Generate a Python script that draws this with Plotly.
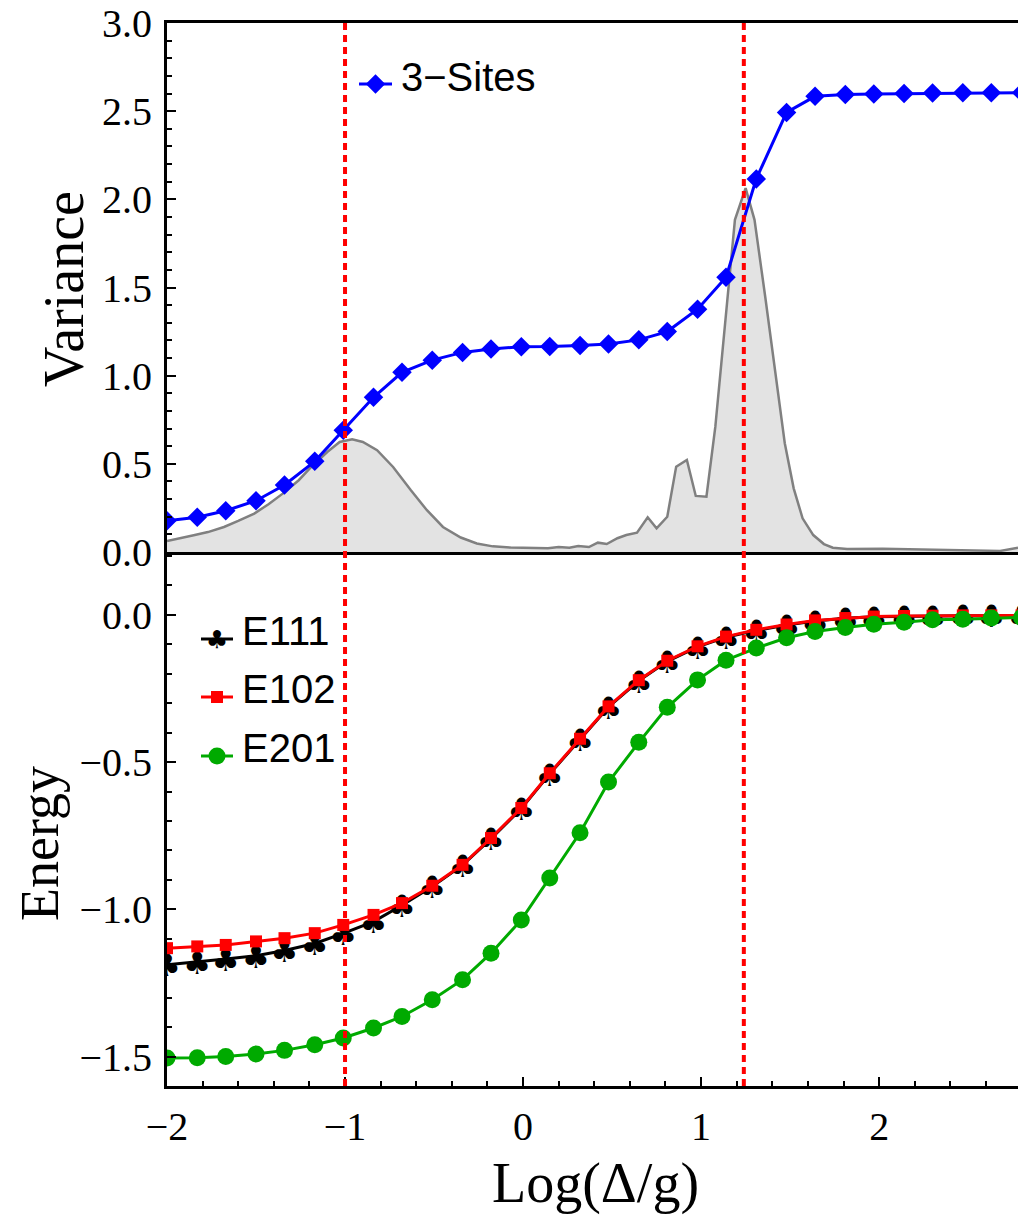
import plotly.graph_objects as go

# ---------------- data ----------------
log_ratio = [-2.00, -1.83, -1.67, -1.50, -1.34, -1.17, -1.01, -0.84, -0.68, -0.51,
             -0.34, -0.18, -0.01, 0.15, 0.32, 0.48, 0.65, 0.81, 0.98, 1.14,
             1.31, 1.48, 1.64, 1.81, 1.97, 2.14, 2.30, 2.47, 2.63, 2.80]

variance_3sites = [0.177, 0.197, 0.234, 0.291, 0.380, 0.514, 0.690, 0.877, 1.019, 1.088,
                   1.132, 1.151, 1.164, 1.165, 1.171, 1.180, 1.203, 1.250, 1.377, 1.558,
                   2.116, 2.493, 2.584, 2.594, 2.598, 2.600, 2.603, 2.605, 2.605, 2.605]

# derivative-like profile shown as the grey filled curve
profile_x = [-2.00, -1.93, -1.85, -1.77, -1.68, -1.60, -1.51, -1.43, -1.35, -1.26,
             -1.19, -1.10, -1.03, -0.96, -0.90, -0.82, -0.73, -0.63, -0.54, -0.45,
             -0.35, -0.26, -0.17, -0.07, 0.10, 0.14, 0.20, 0.26, 0.31, 0.37,
             0.42, 0.47, 0.53, 0.58, 0.64, 0.70, 0.75, 0.81, 0.86, 0.92,
             0.97, 1.03, 1.08, 1.14, 1.19, 1.25, 1.30, 1.36, 1.42, 1.47,
             1.52, 1.57, 1.63, 1.69, 1.74, 1.82, 2.02, 2.30, 2.62, 2.68, 2.78]
profile_y = [0.062, 0.076, 0.095, 0.113, 0.142, 0.176, 0.218, 0.271, 0.331, 0.407,
             0.482, 0.567, 0.624, 0.639, 0.624, 0.577, 0.482, 0.350, 0.237, 0.142,
             0.082, 0.048, 0.032, 0.025, 0.021, 0.021, 0.028, 0.024, 0.034, 0.028,
             0.053, 0.045, 0.078, 0.096, 0.110, 0.197, 0.134, 0.200, 0.484, 0.522,
             0.318, 0.314, 0.711, 1.355, 1.884, 2.064, 1.884, 1.449, 0.995, 0.617,
             0.361, 0.191, 0.096, 0.045, 0.024, 0.017, 0.019, 0.013, 0.010, 0.006, 0.024]

e111 = [-1.188, -1.179, -1.169, -1.158, -1.140, -1.116, -1.082, -1.042, -0.986, -0.923,
        -0.850, -0.760, -0.658, -0.540, -0.423, -0.313, -0.224, -0.158, -0.109, -0.076,
        -0.053, -0.035, -0.021, -0.012, -0.007, -0.005, -0.004, -0.003, -0.003, -0.003]
e102 = [-1.132, -1.126, -1.121, -1.109, -1.098, -1.081, -1.053, -1.019, -0.979, -0.920,
        -0.849, -0.758, -0.656, -0.538, -0.421, -0.311, -0.222, -0.156, -0.107, -0.074,
        -0.051, -0.033, -0.019, -0.011, -0.006, -0.004, -0.003, -0.002, -0.002, -0.002]
e201 = [-1.505, -1.504, -1.500, -1.491, -1.479, -1.460, -1.437, -1.403, -1.364, -1.307,
        -1.239, -1.149, -1.036, -0.894, -0.740, -0.568, -0.433, -0.314, -0.221, -0.154,
        -0.113, -0.078, -0.057, -0.043, -0.032, -0.025, -0.017, -0.015, -0.011, -0.009]

transitions = [-1.0, 1.24]

x_tickvals = [-2, -1, 0, 1, 2]
x_ticktext = ["\u22122", "\u22121", "0", "1", "2"]
var_tickvals = [0.0, 0.5, 1.0, 1.5, 2.0, 2.5, 3.0]
var_ticktext = ["0.0", "0.5", "1.0", "1.5", "2.0", "2.5", "3.0"]
en_tickvals = [-1.5, -1.0, -0.5, 0.0]
en_ticktext = ["\u22121.5", "\u22121.0", "\u22120.5", "0.0"]

# ---------------- geometry ----------------
W, H = 1018, 1217
ML, MR, MT, MB = 167, 0, 23, 131
PW = W - ML - MR
PH = H - MT - MB
BOTTOM_PX = 534                      # height of the energy panel
ENERGY_PX_PER_UNIT = 294.5
split = BOTTOM_PX / PH
ENERGY_RANGE = [-1.6, -1.6 + BOTTOM_PX / ENERGY_PX_PER_UNIT]

# the club glyph sits a little above its text anchor; a twin axis shifted by a
# few pixels puts the glyph's visual centre on the data point
CLUB = "\u2663"
CLUB_SIZE = 31
CLUB_DROP_PX = 4
club_shift = CLUB_DROP_PX / ENERGY_PX_PER_UNIT
CLUB_RANGE = [ENERGY_RANGE[0] + club_shift, ENERGY_RANGE[1] + club_shift]


def px(xp):
    return (xp - ML) / PW


def py(yp):
    return (H - MB - yp) / PH


SERIF = "Liberation Serif"
SANS = "Liberation Sans"
GREEN = "#00aa00"

fig = go.Figure()

# top panel
fig.add_trace(go.Scatter(
    x=profile_x, y=profile_y, xaxis="x2", yaxis="y2", mode="lines",
    fill="tozeroy", fillcolor="#e3e3e3",
    line=dict(color="#808080", width=2.5), hoverinfo="skip"))
fig.add_trace(go.Scatter(
    x=log_ratio, y=variance_3sites, xaxis="x2", yaxis="y2", mode="lines+markers",
    line=dict(color="#0000ff", width=3),
    marker=dict(symbol="diamond", size=15, color="#0000ff")))

# bottom panel: E111 line (y), club glyphs (y4), then E102/E201 on y5 so
# they stack above the clubs
fig.add_trace(go.Scatter(
    x=log_ratio, y=e111, mode="lines",
    line=dict(color="black", width=3)))
fig.add_trace(go.Scatter(
    x=log_ratio, y=e111, xaxis="x", yaxis="y4", mode="text",
    text=[CLUB] * len(e111), textposition="middle center",
    textfont=dict(family="DejaVu Sans", size=CLUB_SIZE, color="black")))
fig.add_trace(go.Scatter(
    x=log_ratio, y=e102, xaxis="x", yaxis="y5", mode="lines+markers",
    line=dict(color="#ff0000", width=3),
    marker=dict(symbol="square", size=12, color="#ff0000")))
fig.add_trace(go.Scatter(
    x=log_ratio, y=e201, xaxis="x", yaxis="y5", mode="lines+markers",
    line=dict(color=GREEN, width=3),
    marker=dict(symbol="circle", size=17, color=GREEN)))

# legend keys (drawn on a hidden full-frame subplot in paper-like units)
key_specs = [
    (px(375.5), py(84), "diamond", 15, "#0000ff", None),
    (px(217), py(642), None, 0, "black", CLUB),
    (px(217), py(697), "square", 12, "#ff0000", None),
    (px(217), py(756), "circle", 17, GREEN, None),
]
for kx, ky, sym, size, col, txt in key_specs:
    if txt:
        fig.add_trace(go.Scatter(
            x=[kx], y=[ky], xaxis="x3", yaxis="y3", mode="text", text=[txt],
            textposition="middle center",
            textfont=dict(family="DejaVu Sans", size=CLUB_SIZE - 6, color=col)))
    else:
        fig.add_trace(go.Scatter(
            x=[kx], y=[ky], xaxis="x3", yaxis="y3", mode="markers",
            marker=dict(symbol=sym, size=size, color=col)))

key_lines = [(359, 392, 84, "#0000ff"), (201, 233, 639, "black"),
             (201, 233, 697, "#ff0000"), (201, 233, 756, GREEN)]
shapes = []
for x0, x1, yk, col in key_lines:
    shapes.append(dict(type="line", xref="paper", yref="paper",
                       x0=px(x0), x1=px(x1), y0=py(yk), y1=py(yk),
                       line=dict(color=col, width=3), layer="below"))
for xv in transitions:
    shapes.append(dict(type="line", xref="x", yref="paper", x0=xv, x1=xv, y0=0, y1=1,
                       line=dict(color="#ff0000", width=4, dash="7px,5px"),
                       layer="above"))

tickfont = dict(family=SERIF, size=40, color="black")
minor_y = dict(dtick=0.1, tick0=0, ticks="inside", ticklen=5, tickwidth=2, tickcolor="black")

annotations = [
    dict(text="Variance", x=px(64), y=py(289), textangle=-90,
         font=dict(family=SERIF, size=56, color="black")),
    dict(text="Energy", x=px(40), y=py(843), textangle=-90,
         font=dict(family=SERIF, size=54, color="black")),
    dict(text="Log(\u0394/g)", x=px(595), y=py(1183),
         font=dict(family=SERIF, size=56, color="black")),
    dict(text="3\u2212Sites", x=px(399), y=py(77), xanchor="left",
         font=dict(family=SANS, size=40, color="black")),
    dict(text="E111", x=px(240), y=py(631), xanchor="left",
         font=dict(family=SANS, size=40, color="black")),
    dict(text="E102", x=px(240), y=py(689), xanchor="left",
         font=dict(family=SANS, size=40, color="black")),
    dict(text="E201", x=px(240), y=py(747.5), xanchor="left",
         font=dict(family=SANS, size=40, color="black")),
]
for a in annotations:
    a.update(xref="paper", yref="paper", showarrow=False)
    a.setdefault("xanchor", "center")
    a.setdefault("yanchor", "middle")

fig.update_layout(
    width=W, height=H,
    margin=dict(l=ML, r=MR, t=MT, b=MB, pad=0),
    paper_bgcolor="white", plot_bgcolor="rgba(0,0,0,0)",
    showlegend=False,
    xaxis=dict(domain=[0, 1], anchor="y", range=[-2, 2.78],
               tickvals=x_tickvals, ticktext=x_ticktext, tickfont=tickfont,
               ticks="inside", ticklen=9, tickwidth=2, tickcolor="black",
               minor=dict(dtick=0.2, tick0=0, ticks="inside", ticklen=5,
                          tickwidth=2, tickcolor="black"),
               showline=True, linewidth=3, linecolor="black",
               showgrid=False, zeroline=False, ticklabelstandoff=3),
    yaxis=dict(domain=[0, split], anchor="x", range=ENERGY_RANGE,
               tickvals=en_tickvals, ticktext=en_ticktext, tickfont=tickfont,
               ticks="inside", ticklen=9, tickwidth=2, tickcolor="black",
               minor=minor_y, showline=True, linewidth=3, linecolor="black",
               showgrid=False, zeroline=False, ticklabelstandoff=4),
    yaxis4=dict(overlaying="y", anchor="x", range=CLUB_RANGE, visible=False),
    yaxis5=dict(overlaying="y", anchor="x", range=ENERGY_RANGE, visible=False),
    xaxis2=dict(domain=[0, 1], anchor="y2", range=[-2, 2.78],
                showticklabels=False, ticks="", showline=True, mirror=True,
                linewidth=3, linecolor="black", showgrid=False, zeroline=False),
    yaxis2=dict(domain=[split, 1], anchor="x2", range=[0, 3],
                tickvals=var_tickvals, ticktext=var_ticktext, tickfont=tickfont,
                ticks="inside", ticklen=9, tickwidth=2, tickcolor="black",
                minor=minor_y, showline=True, linewidth=3, linecolor="black",
                showgrid=False, zeroline=False, ticklabelstandoff=4),
    xaxis3=dict(domain=[0, 1], anchor="y3", range=[0, 1], visible=False),
    yaxis3=dict(domain=[0, 1], anchor="x3", range=[0, 1], visible=False),
    shapes=shapes,
    annotations=annotations,
)

fig.write_html("out.html")
